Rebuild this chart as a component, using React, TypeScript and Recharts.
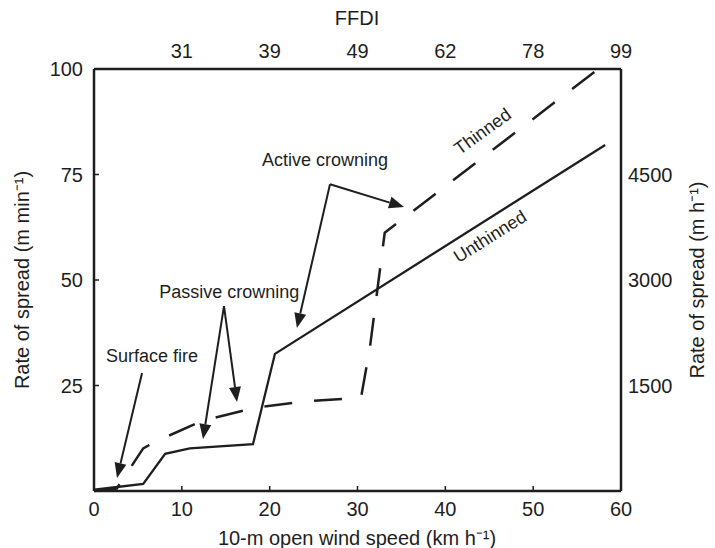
import React from "react";
import {
  LineChart,
  Line,
  XAxis,
  YAxis,
  ReferenceLine,
  ReferenceDot,
} from "recharts";

// wind speed (km/h) vs rate of spread (m/min)
const unthinnedX = [0, 5.6, 8.1, 10.9, 18.1, 20.6, 58.2];
const unthinnedY = [0.3, 1.7, 8.8, 10.1, 11.1, 32.5, 82];
const thinnedX = [0, 2.6, 5.6, 7.1, 12.4, 18.3, 24.2, 30.4, 31.4, 33.1, 57.4];
const thinnedY = [0, 0.6, 10.1, 11.8, 16.7, 19.7, 21.3, 22.1, 33.8, 61.2, 100];

const windTicks = [0, 10, 20, 30, 40, 50, 60];
const ffdiTicks = [10, 20, 30, 40, 50, 60];
const ffdiLabels = ["31", "39", "49", "62", "78", "99"];
const rosTicks = [25, 50, 75, 100];
const rosHourTicks = [1500, 3000, 4500];
const MIN_PER_HOUR = 60;

// annotation arrows: [fromX, fromY, toX, toY]
const arrows = [
  [5.47, 27.96, 2.62, 3.08],
  [14.8, 43.8, 12.41, 12.3],
  [14.8, 43.8, 16.28, 21.1],
  [26.87, 72.7, 23.1, 38.6],
  [26.87, 72.7, 35.3, 67.3],
];

// annotation labels: text, x, y, angle
const notes: [string, number, number, number][] = [
  ["Surface fire", 6.6, 32.0, 0],
  ["Passive crowning", 15.4, 47.2, 0],
  ["Active crowning", 26.3, 78.4, 0],
  ["Thinned", 44.25, 85.2, -36],
  ["Unthinned", 45.1, 60.3, -32],
];

const unthinned = unthinnedX.map((x, i) => ({ x, y: unthinnedY[i] }));
const thinned = thinnedX.map((x, i) => ({ x, y: thinnedY[i] }));
// same thinned curve in m/h, carries the top and right axes
const thinnedPerHour = thinnedX.map((x, i) => ({ x, y: thinnedY[i] * MIN_PER_HOUR }));

const FONT = '"Liberation Sans", Arial, Helvetica, sans-serif';
const INK = "#1e1e1e";
const tickStyle = { fontSize: 20, fill: INK, fontFamily: FONT };
const axisLine = { stroke: INK, strokeWidth: 2.5 };

const ArrowShape = (props: any) => {
  const { x1, y1, x2, y2 } = props;
  const a = Math.atan2(y2 - y1, x2 - x1);
  const len = 15;
  const w = 6;
  const bx = x2 - len * Math.cos(a);
  const by = y2 - len * Math.sin(a);
  const px = -Math.sin(a) * w;
  const py = Math.cos(a) * w;
  return (
    <g>
      <line x1={x1} y1={y1} x2={bx} y2={by} stroke={INK} strokeWidth={2} />
      <polygon
        points={`${x2},${y2} ${bx + px},${by + py} ${bx - px},${by - py}`}
        fill={INK}
      />
    </g>
  );
};

const noteShape = (text: string, angle: number) => (p: any) => (
  <text
    x={p.cx}
    y={p.cy}
    textAnchor="middle"
    dominantBaseline="central"
    fontSize={18}
    fontFamily={FONT}
    fill={INK}
    transform={angle ? `rotate(${angle} ${p.cx} ${p.cy})` : undefined}
  >
    {text}
  </text>
);

const Title = ({ x, y, angle, text }: any) => (
  <text
    x={x}
    y={y}
    textAnchor="middle"
    dominantBaseline="central"
    fontSize={20}
    fontFamily={FONT}
    fill={INK}
    transform={angle ? `rotate(${angle} ${x} ${y})` : undefined}
  >
    {text}
  </text>
);

export default function App() {
  return (
    <div style={{ position: "absolute", left: 0, top: 0, background: "#fff" }}>
      <LineChart
        width={715}
        height={548}
        margin={{ top: 0, right: 0, bottom: 0, left: 0 }}
      >
        <XAxis
          xAxisId="bottom"
          dataKey="x"
          type="number"
          domain={[0, 60]}
          ticks={windTicks}
          orientation="bottom"
          height={57}
          tick={tickStyle}
          axisLine={axisLine}
          tickLine={{ stroke: INK, strokeWidth: 1.5 }}
          tickSize={-5}
          tickMargin={16}
          label={{
            content: () => (
              <Title x={357} y={538} text="10-m open wind speed (km h⁻¹)" />
            ),
          }}
        />
        <XAxis
          xAxisId="top"
          dataKey="x"
          type="number"
          domain={[0, 60]}
          ticks={ffdiTicks}
          orientation="top"
          height={69}
          tick={tickStyle}
          tickFormatter={(v: number) => ffdiLabels[ffdiTicks.indexOf(v)]}
          axisLine={axisLine}
          tickLine={false}
          tickSize={0}
          tickMargin={11}
          label={{ content: () => <Title x={357} y={18} text="FFDI" /> }}
        />
        <YAxis
          yAxisId="left"
          type="number"
          domain={[0, 100]}
          ticks={rosTicks}
          width={94}
          tick={tickStyle}
          axisLine={axisLine}
          tickLine={{ stroke: INK, strokeWidth: 1.5 }}
          tickSize={-5}
          tickMargin={16}
          label={{
            content: () => (
              <Title x={22} y={280} angle={-90} text="Rate of spread (m min⁻¹)" />
            ),
          }}
        />
        <YAxis
          yAxisId="right"
          orientation="right"
          type="number"
          domain={[0, 6000]}
          ticks={rosHourTicks}
          width={94}
          tick={tickStyle}
          axisLine={axisLine}
          tickLine={false}
          tickSize={0}
          tickMargin={7}
          label={{
            content: () => (
              <Title x={697} y={280} angle={-90} text="Rate of spread (m h⁻¹)" />
            ),
          }}
        />
        <Line
          xAxisId="top"
          yAxisId="right"
          data={thinnedPerHour}
          dataKey="y"
          type="linear"
          stroke="none"
          dot={false}
          activeDot={false}
          legendType="none"
          isAnimationActive={false}
        />
        <Line
          xAxisId="bottom"
          yAxisId="left"
          data={unthinned}
          dataKey="y"
          type="linear"
          stroke={INK}
          strokeWidth={2.3}
          dot={false}
          activeDot={false}
          isAnimationActive={false}
        />
        <Line
          xAxisId="bottom"
          yAxisId="left"
          data={thinned}
          dataKey="y"
          type="linear"
          stroke={INK}
          strokeWidth={2.5}
          strokeDasharray="28 22"
          dot={false}
          activeDot={false}
          isAnimationActive={false}
        />
        {arrows.map(([fx, fy, tx, ty], i) => (
          <ReferenceLine
            key={`a${i}`}
            xAxisId="bottom"
            yAxisId="left"
            segment={[
              { x: fx, y: fy },
              { x: tx, y: ty },
            ]}
            shape={ArrowShape}
          />
        ))}
        {notes.map(([text, x, y, angle], i) => (
          <ReferenceDot
            key={`n${i}`}
            xAxisId="bottom"
            yAxisId="left"
            x={x}
            y={y}
            r={0}
            shape={noteShape(text, angle)}
          />
        ))}
      </LineChart>
    </div>
  );
}
